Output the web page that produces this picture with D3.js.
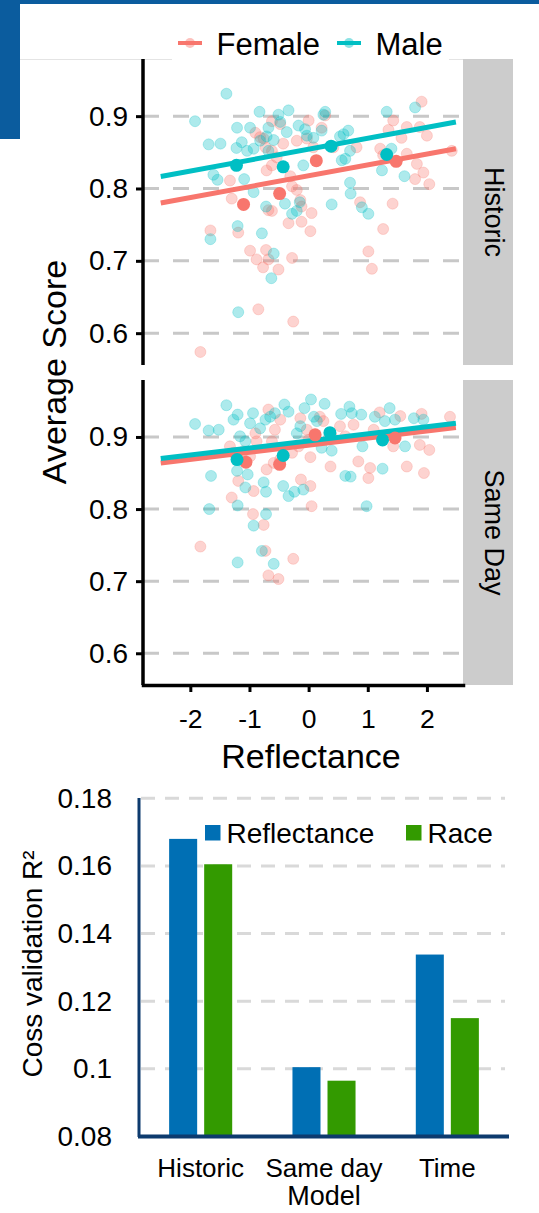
<!DOCTYPE html>
<html lang="en">
<head>
<meta charset="UTF-8">
<title>Average score by reflectance / cross validation R2</title>
<script src="https://d3js.org/d3.v7.min.js" charset="utf-8"></script>
<style>
  body { margin: 0; background: #fff; }
  svg { display: block; font-family: "Liberation Sans", Arial, sans-serif; }
</style>
</head>
<body>
<div id="my_dataviz"></div>
<script>
// ---------- data ----------
const genders = ["Female", "Male"];
const facetNames = ["Historic", "Same Day"];
const scatterXTicks = [-2, -1, 0, 1, 2];
const scatterXLabels = ["-2", "-1", "0", "1", "2"];
const scatterYTicks = [0.6, 0.7, 0.8, 0.9];
const scatterYLabels = ["0.6", "0.7", "0.8", "0.9"];

// [reflectance, average score]
const historicFemalePts = [[1.91,0.920],[-0.62,0.893],[-0.48,0.889],[0.00,0.894],[0.22,0.884],[0.28,0.901],[-0.03,0.869],[-0.90,0.877],[-0.82,0.871],[-0.76,0.869],[-0.73,0.857],[-0.62,0.852],[-0.54,0.843],[-0.43,0.862],[-0.20,0.866],[0.08,0.857],[0.42,0.857],[0.81,0.857],[1.21,0.855],[1.26,0.846],[1.35,0.881],[1.43,0.894],[1.57,0.870],[1.66,0.885],[1.88,0.885],[2.00,0.873],[2.42,0.852],[1.66,0.848],[1.83,0.834],[1.94,0.822],[1.80,0.813],[2.04,0.806],[-1.30,0.786],[-1.33,0.811],[-0.71,0.825],[-0.62,0.832],[-0.31,0.817],[-0.28,0.803],[-0.20,0.798],[-0.14,0.784],[-0.12,0.775],[0.05,0.766],[-0.12,0.754],[-0.34,0.752],[0.03,0.741],[-0.68,0.770],[-0.62,0.769],[0.87,0.781],[1.42,0.779],[1.26,0.744],[-1.66,0.742],[-1.19,0.739],[-0.99,0.714],[-0.88,0.702],[-0.72,0.715],[-0.68,0.702],[-0.77,0.691],[-0.51,0.688],[-0.28,0.704],[1.01,0.713],[1.07,0.689],[-0.85,0.633],[-0.26,0.616],[-1.83,0.574]];
const historicMalePts = [[-1.39,0.931],[-1.92,0.893],[-0.83,0.906],[-0.51,0.902],[-0.34,0.908],[0.28,0.906],[0.25,0.902],[1.32,0.906],[1.80,0.912],[-1.21,0.884],[-0.99,0.884],[-0.68,0.884],[-0.48,0.892],[-0.37,0.878],[-0.17,0.887],[-0.06,0.882],[-0.03,0.873],[0.08,0.870],[0.22,0.880],[0.53,0.872],[0.67,0.880],[0.59,0.875],[-1.69,0.861],[-1.49,0.862],[-1.22,0.856],[-1.13,0.864],[-1.04,0.852],[-0.93,0.855],[-0.82,0.866],[-0.71,0.872],[-0.59,0.867],[-0.68,0.852],[-0.09,0.832],[0.56,0.839],[0.62,0.841],[0.70,0.852],[-1.61,0.819],[-1.54,0.812],[-1.09,0.813],[-0.93,0.795],[-0.72,0.775],[-0.40,0.779],[-0.28,0.765],[-0.20,0.769],[-0.15,0.781],[0.39,0.778],[0.70,0.808],[0.71,0.793],[0.90,0.774],[1.01,0.765],[1.24,0.825],[1.40,0.855],[1.62,0.817],[-1.66,0.730],[-1.20,0.748],[-0.79,0.738],[-0.59,0.710],[-0.63,0.676],[-1.19,0.629]];
const sameDayFemalePts = [[-1.83,0.748],[-1.30,0.816],[-1.19,0.839],[-0.93,0.825],[-0.94,0.793],[-0.76,0.778],[-0.73,0.742],[-0.68,0.708],[-0.51,0.703],[-0.26,0.731],[0.05,0.804],[-0.13,0.841],[0.03,0.832],[0.03,0.872],[0.37,0.859],[0.84,0.866],[1.04,0.857],[1.01,0.843],[1.66,0.859],[1.95,0.850],[2.04,0.882],[1.88,0.889],[2.39,0.928],[1.91,0.932],[1.55,0.929],[1.20,0.934],[1.10,0.910],[1.24,0.899],[1.46,0.899],[1.43,0.887],[-0.14,0.926],[-0.03,0.910],[0.19,0.928],[0.25,0.922],[0.39,0.901],[0.53,0.915],[-0.90,0.905],[-0.88,0.894],[-0.68,0.938],[-0.62,0.894],[-0.57,0.910],[-0.48,0.924],[-1.33,0.887],[-1.10,0.880],[-1.27,0.878],[-0.99,0.873],[-0.59,0.864],[-0.48,0.869],[-0.71,0.855],[-0.28,0.878],[-0.17,0.887],[0.00,0.896],[0.62,0.901],[0.76,0.917]];
const sameDayMalePts = [[-1.92,0.918],[-1.69,0.909],[-1.52,0.910],[-1.39,0.944],[-1.27,0.924],[-1.20,0.931],[-1.16,0.901],[-1.07,0.894],[-0.99,0.919],[-0.94,0.933],[-0.82,0.912],[-0.73,0.924],[-0.65,0.928],[-0.57,0.933],[-0.41,0.945],[-0.34,0.935],[-0.20,0.905],[-0.14,0.915],[-0.07,0.940],[0.04,0.952],[0.09,0.928],[0.14,0.922],[0.22,0.885],[0.27,0.946],[0.39,0.881],[0.55,0.932],[0.69,0.942],[0.73,0.933],[0.89,0.931],[0.91,0.887],[1.12,0.928],[1.29,0.922],[1.37,0.940],[1.46,0.924],[1.63,0.887],[1.78,0.926],[1.94,0.924],[-1.65,0.846],[-1.20,0.805],[-1.68,0.800],[-1.21,0.853],[-1.07,0.830],[-1.03,0.848],[-0.76,0.837],[-0.72,0.824],[-0.72,0.793],[-0.93,0.777],[-0.79,0.742],[-0.59,0.724],[-1.20,0.726],[-0.43,0.832],[-0.34,0.818],[-0.24,0.824],[-0.09,0.827],[0.62,0.846],[0.71,0.845],[0.98,0.804],[1.25,0.856]];

// binned means (large solid dots)
const historicFemaleMeans = [[-1.10,0.778],[-0.49,0.793],[0.13,0.8385],[1.48,0.8376]];
const historicMaleMeans = [[-1.22,0.832],[-0.43,0.830],[0.38,0.8585],[1.32,0.847]];
const sameDayFemaleMeans = [[-1.06,0.865],[-0.49,0.862],[0.11,0.903],[1.46,0.8986]];
const sameDayMaleMeans = [[-1.21,0.8687],[-0.43,0.8743],[0.36,0.9059],[1.25,0.8959]];

// fitted lines, end points
const historicFemaleFit = [[-2.5,0.780],[2.49,0.855]];
const historicMaleFit = [[-2.5,0.8165],[2.49,0.892]];
const sameDayFemaleFit = [[-2.5,0.864],[2.49,0.913]];
const sameDayMaleFit = [[-2.5,0.870],[2.49,0.919]];

// bar chart
const models = ["Historic", "Same day", "Time"];
const predictors = ["Reflectance", "Race"];
const reflectanceR2 = [0.168, 0.1005, 0.1338];
const raceR2 = [0.1605, 0.0965, 0.115];
const barYTicks = [0.08, 0.1, 0.12, 0.14, 0.16, 0.18];
const barYLabels = ["0.08", "0.1", "0.12", "0.14", "0.16", "0.18"];

// ---------- setup ----------
const width = 539, height = 1213;
const genderColor = d3.scaleOrdinal().domain(genders).range(["#F8766D", "#00BFC4"]);
const barColor = d3.scaleOrdinal().domain(predictors).range(["#006fb4", "#339a00"]);

const svg = d3.select("#my_dataviz")
  .append("svg")
    .attr("width", width)
    .attr("height", height);

// bits of the blue slide behind the figure
svg.append("rect").attr("x", 0).attr("y", 0).attr("width", width).attr("height", 4).attr("fill", "#0b5c9e");
svg.append("rect").attr("x", 0).attr("y", 0).attr("width", 20).attr("height", 139).attr("fill", "#0b5c9e");
// faint edge of the pasted plot image
svg.append("line").attr("x1", 20).attr("x2", 172).attr("y1", 59.5).attr("y2", 59.5).attr("stroke", "#e4e4e4");
svg.append("line").attr("x1", 449).attr("x2", 463).attr("y1", 59.5).attr("y2", 59.5).attr("stroke", "#e4e4e4");

// ---------- faceted scatter ----------
const x = d3.scaleLinear().domain([-2.8, 2.61]).range([143, 463]);
const yDomain = [0.556, 0.979];

const facets = [
  { name: facetNames[0], top: 59, bottom: 365,
    pts: [historicFemalePts, historicMalePts], means: [historicFemaleMeans, historicMaleMeans], fits: [historicFemaleFit, historicMaleFit] },
  { name: facetNames[1], top: 380, bottom: 685,
    pts: [sameDayFemalePts, sameDayMalePts], means: [sameDayFemaleMeans, sameDayMaleMeans], fits: [sameDayFemaleFit, sameDayMaleFit] }
];

const line = d3.line();

facets.forEach((f, fi) => {
  const y = d3.scaleLinear().domain(yDomain).range([f.bottom, f.top]);
  const g = svg.append("g");

  // dashed grid
  g.selectAll("line.grid")
    .data(scatterYTicks)
    .join("line")
      .attr("class", "grid")
      .attr("x1", 143).attr("x2", 463)
      .attr("y1", d => y(d)).attr("y2", d => y(d))
      .attr("stroke", "#c8c8c8")
      .attr("stroke-width", 3)
      .attr("stroke-dasharray", "16 14");

  // raw points
  genders.forEach((gn, i) => {
    g.append("g").selectAll("circle")
      .data(f.pts[i])
      .join("circle")
        .attr("cx", d => x(d[0]))
        .attr("cy", d => y(d[1]))
        .attr("r", 5.5)
        .attr("fill", genderColor(gn))
        .attr("fill-opacity", 0.32)
        .attr("stroke", genderColor(gn))
        .attr("stroke-opacity", 0.25)
        .attr("stroke-width", 1);
  });

  // fitted lines
  genders.forEach((gn, i) => {
    g.append("path")
      .attr("d", line(f.fits[i].map(d => [x(d[0]), y(d[1])])))
      .attr("stroke", genderColor(gn))
      .attr("stroke-width", 5)
      .attr("fill", "none");
  });

  // bin means
  genders.forEach((gn, i) => {
    g.append("g").selectAll("circle")
      .data(f.means[i])
      .join("circle")
        .attr("cx", d => x(d[0]))
        .attr("cy", d => y(d[1]))
        .attr("r", 6.5)
        .attr("fill", genderColor(gn));
  });

  // facet strip
  g.append("rect")
    .attr("x", 463).attr("y", f.top)
    .attr("width", 50).attr("height", f.bottom - f.top)
    .attr("fill", "#cccccc");
  g.append("text")
    .attr("transform", `translate(485, ${(f.top + f.bottom) / 2}) rotate(90)`)
    .attr("text-anchor", "middle")
    .style("font-size", "27px")
    .text(f.name);

  // y axis
  const ya = g.append("g")
    .attr("transform", "translate(143,0)")
    .call(d3.axisLeft(y).tickValues(scatterYTicks).tickSize(7).tickSizeOuter(0).tickPadding(8)
      .tickFormat((d, i) => scatterYLabels[i]));
  ya.select(".domain").attr("stroke", "#000").attr("stroke-width", 3.5).attr("d", `M0,${f.top}V${f.bottom}`);
  ya.selectAll(".tick line").attr("stroke", "#000").attr("stroke-width", 3);
  ya.selectAll(".tick text").style("font-size", "28px").attr("fill", "#000");
  ya.attr("font-family", null);

  // x axis on the bottom facet only
  if (fi === facets.length - 1) {
    const xa = g.append("g")
      .attr("transform", `translate(0,${f.bottom})`)
      .call(d3.axisBottom(x).tickValues(scatterXTicks).tickSize(7).tickSizeOuter(0).tickPadding(17)
        .tickFormat((d, i) => scatterXLabels[i]));
    xa.select(".domain").attr("stroke", "#000").attr("stroke-width", 3.5).attr("stroke-linecap", "square");
    xa.selectAll(".tick line").attr("stroke", "#000").attr("stroke-width", 3);
    xa.selectAll(".tick text").style("font-size", "26.5px").attr("fill", "#000");
    xa.attr("font-family", null);
  }
});

// axis titles
svg.append("text")
  .attr("transform", "translate(66, 372) rotate(-90)")
  .attr("text-anchor", "middle")
  .style("font-size", "34px")
  .text("Average Score");
svg.append("text")
  .attr("x", 311).attr("y", 767.5)
  .attr("text-anchor", "middle")
  .style("font-size", "34px")
  .text("Reflectance");

// legend
const legendX = [178, 337];
const leg = svg.append("g");
genders.forEach((gn, i) => {
  leg.append("line")
    .attr("x1", legendX[i]).attr("x2", legendX[i] + 24)
    .attr("y1", 43).attr("y2", 43)
    .attr("stroke", genderColor(gn)).attr("stroke-width", 4);
  leg.append("circle")
    .attr("cx", legendX[i] + 12).attr("cy", 43).attr("r", 5)
    .attr("fill", genderColor(gn)).attr("fill-opacity", 0.45);
  leg.append("text")
    .attr("x", legendX[i] + 38.5).attr("y", 55)
    .style("font-size", "31px")
    .text(gn);
});

// ---------- bar chart ----------
const yb = d3.scaleLinear().domain([0.08, 0.18]).range([1136.5, 798.3]);
const x0 = d3.scaleBand().domain(models).range([139, 509]);
const x1 = d3.scaleBand().domain(predictors).range([0, x0.bandwidth()]).paddingInner(0.2).paddingOuter(0.86);

svg.append("g").selectAll("line")
  .data(barYTicks.slice(1))
  .join("line")
    .attr("x1", 141).attr("x2", 505)
    .attr("y1", d => yb(d)).attr("y2", d => yb(d))
    .attr("stroke", "#d9d9d9")
    .attr("stroke-width", 3)
    .attr("stroke-dasharray", "14 10");

const barRows = models.map((m, i) => ({ model: m, values: [reflectanceR2[i], raceR2[i]] }));
svg.append("g").selectAll("g")
  .data(barRows)
  .join("g")
    .attr("transform", d => `translate(${x0(d.model)},0)`)
  .selectAll("rect")
  .data(d => d.values.map((v, j) => ({ key: predictors[j], value: v })))
  .join("rect")
    .attr("x", d => x1(d.key))
    .attr("y", d => yb(d.value))
    .attr("width", x1.bandwidth())
    .attr("height", d => yb(0.08) - yb(d.value))
    .attr("fill", d => barColor(d.key));

const yba = svg.append("g")
  .attr("transform", "translate(139,0)")
  .call(d3.axisLeft(yb).tickValues(barYTicks).tickSize(0).tickPadding(27)
    .tickFormat((d, i) => barYLabels[i]));
yba.select(".domain").remove();
yba.selectAll(".tick text").style("font-size", "28px").attr("fill", "#000");
yba.attr("font-family", null);

const xba = svg.append("g")
  .attr("transform", "translate(0,1136.5)")
  .call(d3.axisBottom(x0).tickSize(0).tickPadding(22));
xba.select(".domain").remove();
xba.selectAll(".tick text").style("font-size", "26px").attr("fill", "#000");
xba.attr("font-family", null);

// axis lines of the bar chart
svg.append("line").attr("x1", 139).attr("x2", 139).attr("y1", 798).attr("y2", 1137)
  .attr("stroke", "#0d3b6e").attr("stroke-width", 3);
svg.append("line").attr("x1", 138).attr("x2", 509).attr("y1", 1136.5).attr("y2", 1136.5)
  .attr("stroke", "#0d3b6e").attr("stroke-width", 4);

svg.append("text")
  .attr("transform", "translate(42, 964) rotate(-90)")
  .attr("text-anchor", "middle")
  .style("font-size", "28px")
  .text("Coss validation R²");
svg.append("text")
  .attr("x", 324).attr("y", 1205)
  .attr("text-anchor", "middle")
  .style("font-size", "27px")
  .text("Model");

// bar legend
const barLegX = [205, 406];
predictors.forEach((p, i) => {
  svg.append("rect")
    .attr("x", barLegX[i]).attr("y", 825)
    .attr("width", 15.5).attr("height", 15.5)
    .attr("fill", barColor(p));
  svg.append("text")
    .attr("x", barLegX[i] + 21.5).attr("y", 843)
    .style("font-size", "28px")
    .text(p);
});
</script>
</body>
</html>
